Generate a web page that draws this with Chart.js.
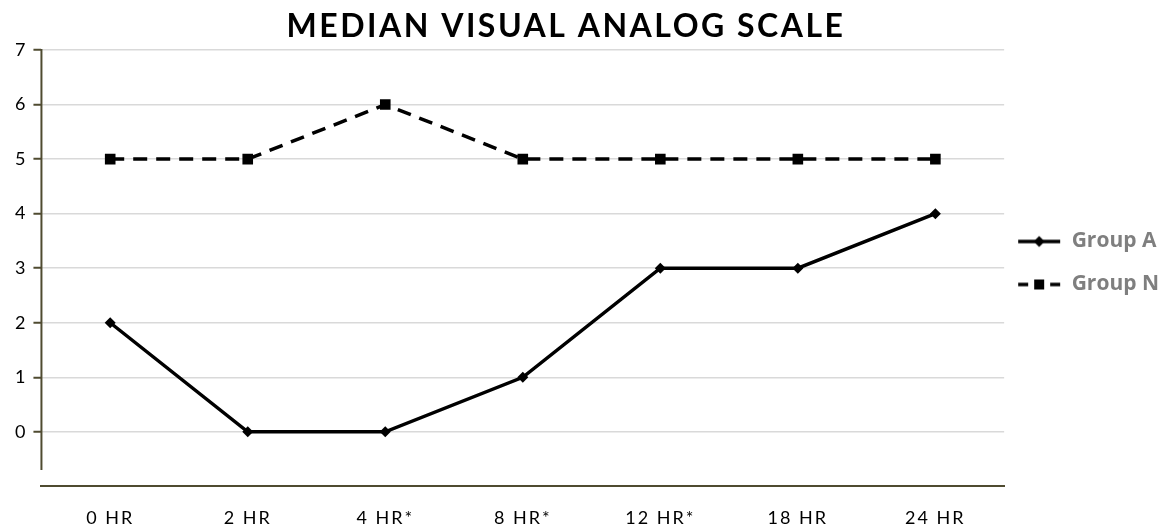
<!DOCTYPE html>
<html>
<head>
<meta charset="utf-8">
<script src="https://cdn.jsdelivr.net/npm/chart.js@4.4.0/dist/chart.umd.min.js"></script>
<style>
  html, body { margin: 0; padding: 0; background: #fff; }
  #wrap { width: 1174px; height: 530px; position: relative; }
</style>
</head>
<body>
<div id="wrap"><canvas id="vas-chart"></canvas></div>
<script>
// chart data
const timepoints = ['0 HR', '2 HR', '4 HR*', '8 HR*', '12 HR*', '18 HR', '24 HR'];
const groupA = [2, 0, 0, 1, 3, 3, 4];
const groupN = [5, 5, 6, 5, 5, 5, 5];
const yTicks = [0, 1, 2, 3, 4, 5, 6, 7];
const chartTitle = 'MEDIAN VISUAL ANALOG SCALE';

const axisColor = '#4f4b30';
const fontFamily = 'Lato, "Open Sans", sans-serif';

// legend sample: short line with the series marker in the middle
function legendSample(dashed, marker) {
  const c = document.createElement('canvas');
  c.width = 44;
  c.height = 14;
  const g = c.getContext('2d');
  g.strokeStyle = '#000';
  g.lineWidth = 3.5;
  if (dashed) g.setLineDash([10, 6]);
  g.beginPath();
  g.moveTo(1, 7);
  g.lineTo(43, 7);
  g.stroke();
  g.setLineDash([]);
  g.fillStyle = '#000';
  if (marker === 'diamond') {
    g.beginPath();
    g.moveTo(22, 1.5); g.lineTo(27.5, 7); g.lineTo(22, 12.5); g.lineTo(16.5, 7);
    g.closePath();
    g.fill();
  } else {
    g.fillRect(17, 2, 10, 10);
  }
  return c;
}

// title drawn a bit left of canvas centre, as in the original
const titlePlugin = {
  id: 'titleText',
  afterDraw(chart) {
    const ctx = chart.ctx;
    ctx.save();
    ctx.font = 'bold 32px ' + fontFamily;
    ctx.letterSpacing = '2.5px';
    ctx.fillStyle = '#000';
    ctx.textAlign = 'center';
    ctx.textBaseline = 'middle';
    ctx.fillText(chartTitle, 566, 27);
    ctx.restore();
  }
};

// y axis line stops short of the x axis
const yAxisLine = {
  id: 'yAxisLine',
  beforeDatasetsDraw(chart) {
    const y = chart.scales.y;
    const ctx = chart.ctx;
    ctx.save();
    ctx.strokeStyle = axisColor;
    ctx.lineWidth = 2;
    ctx.beginPath();
    ctx.moveTo(y.right, y.getPixelForValue(7) - 1);
    ctx.lineTo(y.right, y.getPixelForValue(-0.7));
    ctx.stroke();
    ctx.restore();
  }
};

// spaced-out x labels, legend nudged up and left
const tweaks = {
  id: 'tweaks',
  afterLayout(chart) {
    const lg = chart.legend;
    lg.left -= 9;
    lg.top -= 37;
    lg.bottom -= 37;
    const s = chart.scales.x;
    if (!s._spaced) {
      const orig = s.drawLabels.bind(s);
      s.drawLabels = function(area) {
        this.ctx.save();
        this.ctx.letterSpacing = '2px';
        orig(area);
        this.ctx.restore();
      };
      s._spaced = true;
    }
  }
};

const ctx = document.getElementById('vas-chart').getContext('2d');
const chart = new Chart(ctx, {
  type: 'line',
  data: {
    labels: timepoints,
    datasets: [
      {
        label: 'Group A',
        data: groupA,
        borderColor: '#000',
        backgroundColor: '#000',
        borderWidth: 3.5,
        pointStyle: 'rectRot',
        pointRadius: 5.5,
        pointBorderWidth: 0,
        tension: 0,
        legendSample: legendSample(false, 'diamond')
      },
      {
        label: 'Group N',
        data: groupN,
        borderColor: '#000',
        backgroundColor: '#000',
        borderWidth: 3.5,
        borderDash: [14, 9],
        pointStyle: 'rect',
        pointRadius: 7.5,
        pointBorderWidth: 0,
        tension: 0,
        legendSample: legendSample(true, 'square')
      }
    ]
  },
  options: {
    responsive: true,
    maintainAspectRatio: false,
    animation: false,
    layout: { padding: { top: 50, left: 7, right: -4, bottom: -20 } },
    plugins: {
      title: { display: false },
      tooltip: { enabled: false },
      legend: {
        position: 'right',
        labels: {
          usePointStyle: true,
          pointStyleWidth: 44,
          padding: 22,
          color: '#7f7f7f',
          font: { family: '"Open Sans", sans-serif', size: 21, weight: 'bold' },
          generateLabels(chart) {
            return chart.data.datasets.map((ds, i) => ({
              text: ds.label,
              pointStyle: ds.legendSample,
              fillStyle: '#000',
              strokeStyle: '#000',
              lineWidth: 0,
              fontColor: '#7f7f7f',
              hidden: false,
              datasetIndex: i
            }));
          }
        }
      }
    },
    scales: {
      x: {
        offset: true,
        grid: { display: false, drawTicks: false },
        border: { display: true, color: axisColor, width: 2 },
        ticks: {
          color: '#000',
          padding: 21,
          maxRotation: 0,
          font: { family: fontFamily, size: 18 }
        }
      },
      y: {
        min: -1,
        max: 7,
        afterBuildTicks(scale) {
          scale.ticks = [-1].concat(yTicks).map(v => ({ value: v }));
        },
        grid: {
          color: c => c.tick && c.tick.value < 0 ? 'rgba(0,0,0,0)' : '#d9d9d9',
          tickColor: c => c.tick && c.tick.value < 0 ? 'rgba(0,0,0,0)' : axisColor,
          tickWidth: 2,
          lineWidth: 1.5,
          tickLength: 8
        },
        border: { display: false },
        ticks: {
          color: '#000',
          padding: 8,
          font: { family: fontFamily, size: 18 },
          callback: v => v < 0 ? '' : v
        }
      }
    }
  },
  plugins: [titlePlugin, yAxisLine, tweaks]
});
</script>
</body>
</html>
